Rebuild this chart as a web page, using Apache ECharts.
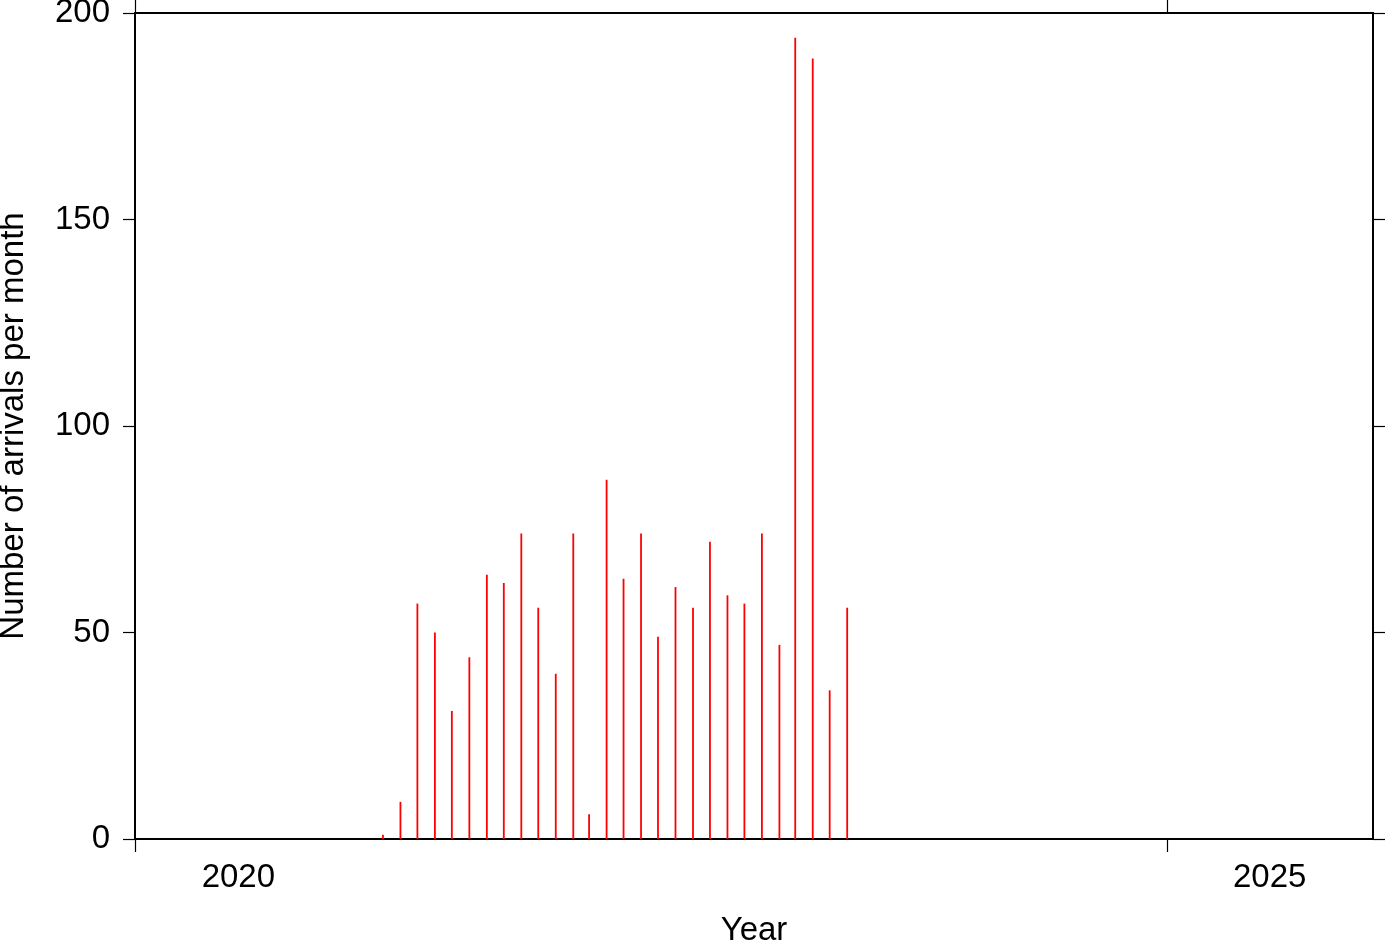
<!DOCTYPE html>
<html>
<head>
<meta charset="utf-8">
<script src="https://cdn.jsdelivr.net/npm/echarts@6/dist/echarts.min.js"></script>
<style>html,body{margin:0;padding:0;background:#fff}#c{width:1387px;height:942px}</style>
</head>
<body>
<div id="c"></div>
<script>
var months = ['2021-03','2021-04','2021-05','2021-06','2021-07','2021-08','2021-09','2021-10','2021-11','2021-12',
  '2022-01','2022-02','2022-03','2022-04','2022-05','2022-06','2022-07','2022-08','2022-09','2022-10','2022-11','2022-12',
  '2023-01','2023-02','2023-03','2023-04','2023-05','2023-06'];
var arrivals = [1, 9, 57, 50, 31, 44, 64, 62, 74, 56, 40, 74, 6, 87, 63, 74, 49, 61, 56, 72, 59, 57, 74, 47, 194, 189, 36, 56];
var yearTicks = ['2020-01-01', '2025-01-01'];
var yearLabels = ['2020-07-02', '2025-07-02'];
var yTicks = [0, 50, 100, 150, 200];

var font = "'Liberation Sans', Arial, Helvetica, sans-serif";
var ts = function (s) { return new Date(s + 'T00:00:00Z').getTime(); };
var data = months.map(function (m, i) { return [ts(m + '-15'), arrivals[i]]; });

var chart = echarts.init(document.getElementById('c'), null, {renderer: 'canvas'});
var lineStyle = {color: '#000', width: 2};
var tickStyle = {color: '#000', width: 1.2};
chart.setOption({
  animation: false,
  backgroundColor: '#fff',
  grid: {left: 135, right: 14, top: 13, bottom: 103, containLabel: false, outerBoundsMode: 'none'},
  xAxis: [{
    type: 'value',
    min: ts('2020-01-01'), max: ts('2026-01-01'),
    position: 'bottom',
    axisLine: {show: true, onZero: false, lineStyle: lineStyle},
    axisTick: {show: true, inside: false, length: 13, customValues: yearTicks.map(ts), lineStyle: tickStyle},
    axisLabel: {show: true, customValues: yearLabels.map(ts), color: '#000', fontSize: 33, fontFamily: font, margin: 22,
      formatter: function (v) { return String(new Date(v).getUTCFullYear()); }},
    splitLine: {show: false},
    name: 'Year', nameLocation: 'middle', nameGap: 75,
    nameTextStyle: {color: '#000', fontSize: 33, fontFamily: font}
  }, {
    type: 'value',
    min: ts('2020-01-01'), max: ts('2026-01-01'),
    position: 'top',
    axisLine: {show: true, onZero: false, lineStyle: lineStyle},
    axisTick: {show: true, inside: false, length: 13, customValues: yearTicks.map(ts), lineStyle: tickStyle},
    axisLabel: {show: false},
    splitLine: {show: false}
  }],
  yAxis: [{
    type: 'value', min: 0, max: 200, interval: 50,
    position: 'left',
    axisLine: {show: true, onZero: false, lineStyle: lineStyle},
    axisTick: {show: true, inside: false, length: 12, lineStyle: tickStyle},
    axisLabel: {color: '#000', fontSize: 33, fontFamily: font, margin: 25},
    splitLine: {show: false},
    name: 'Number of arrivals per month', nameLocation: 'middle', nameRotate: 90, nameGap: 105,
    nameTextStyle: {color: '#000', fontSize: 33, fontFamily: font}
  }, {
    type: 'value', min: 0, max: 200, interval: 50,
    position: 'right',
    axisLine: {show: true, onZero: false, lineStyle: lineStyle},
    axisTick: {show: true, inside: false, length: 12, lineStyle: tickStyle},
    axisLabel: {show: false},
    splitLine: {show: false}
  }],
  series: [{
    type: 'bar',
    xAxisIndex: 0, yAxisIndex: 0,
    data: data,
    barWidth: 1.8,
    itemStyle: {color: '#ff0000'}
  }]
});
</script>
</body>
</html>
